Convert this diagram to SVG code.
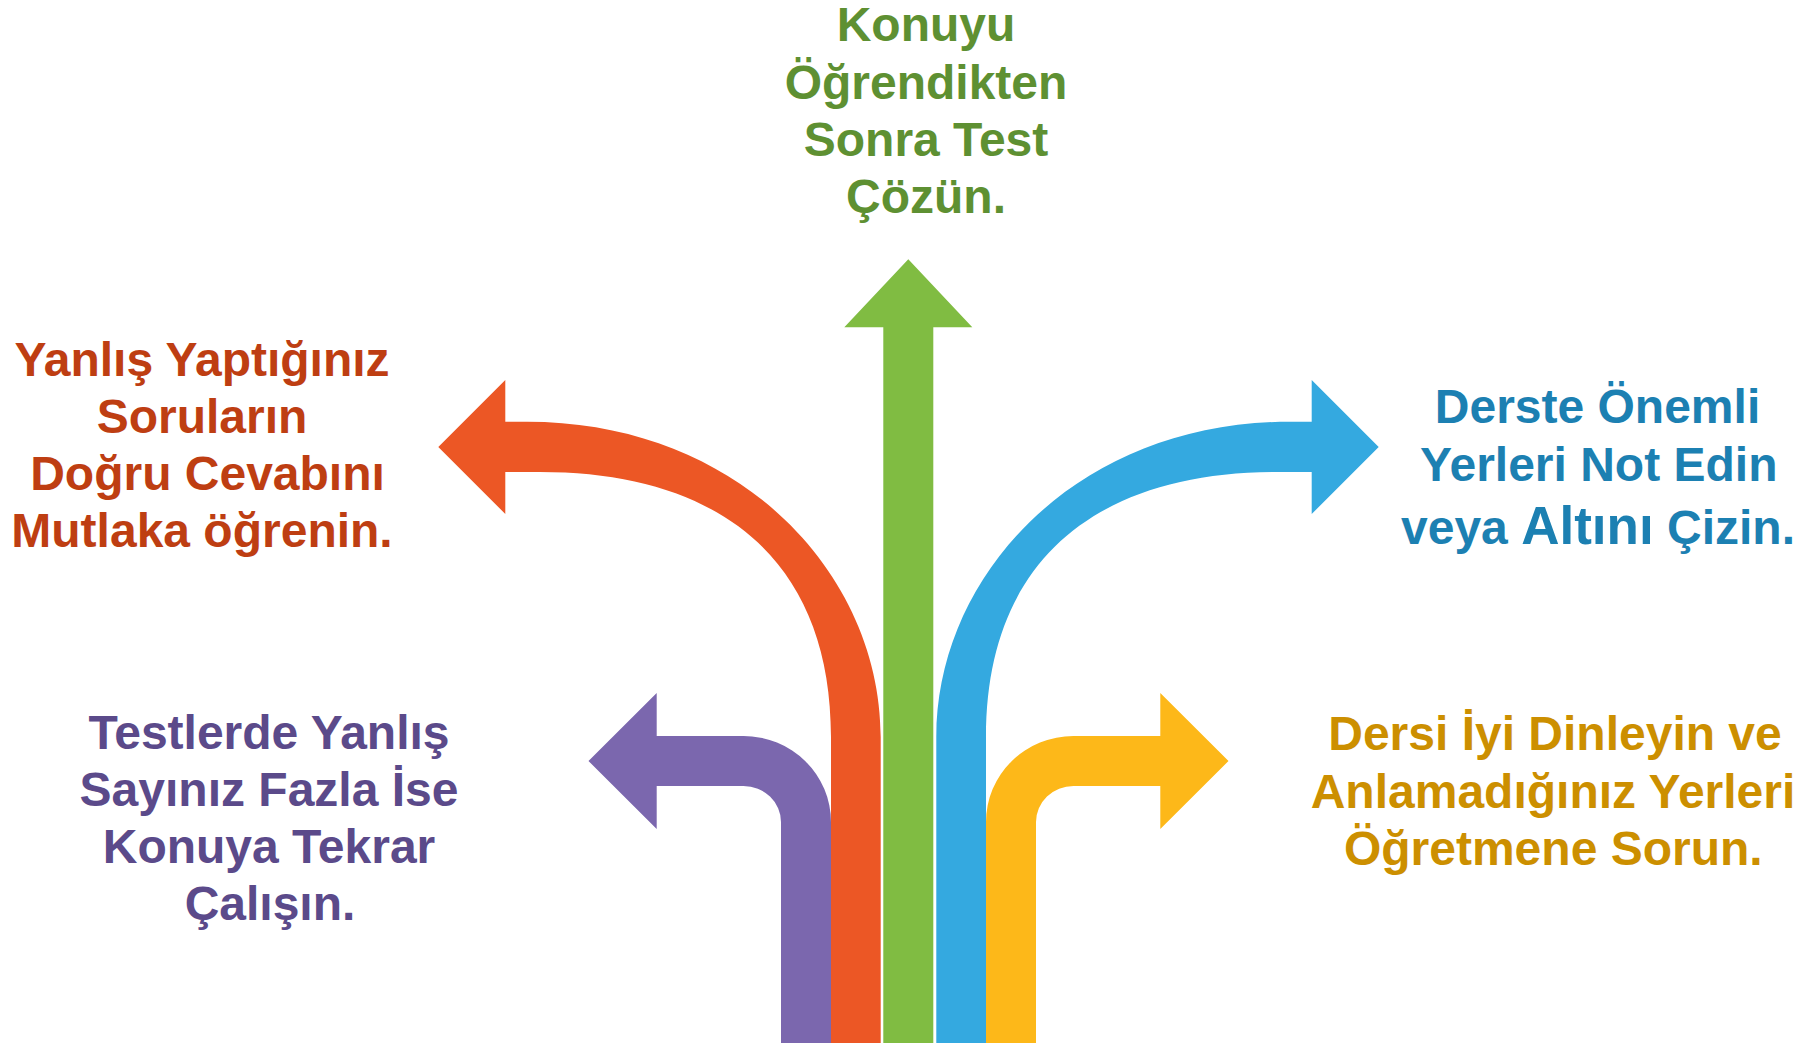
<svg xmlns="http://www.w3.org/2000/svg" width="1820" height="1043" viewBox="0 0 1820 1043">
<style>
  text { font-family: "Liberation Sans", Arial, sans-serif; font-weight: bold; font-size: 48px; text-anchor: middle; }
  .t-green { fill: #5E9032; }
  .t-orange { fill: #BE3E12; }
  .t-blue { fill: #1C80B2; }
  .t-purple { fill: #5B4A8A; }
  .t-yellow { fill: #CC8F00; }
  .big { font-size: 53px; }
</style>
<rect width="1820" height="1043" fill="#FFFFFF"/>
<g id="connectors">
  <path id="arrow-purple" fill="#7B67AE" d="M 831 1043 L 831 822 A 87.5 86 0 0 0 743.5 736 L 656.7 736 L 656.7 693 L 588.5 761 L 656.7 829 L 656.7 786 L 743.5 786 A 37.5 36 0 0 1 781 822 L 781 1043 Z"/>
  <path id="arrow-orange" fill="#EC5725" d="M 880.7 1043 L 880.7 737 C 880.7 575 740 421.7 527 421.7 L 505.3 421.7 L 505.3 380 L 438.3 447 L 505.3 514 L 505.3 472 L 540 472 C 720 472 831 560 831 737 L 831 1043 Z"/>
  <path id="arrow-green" fill="#80BC42" d="M 883.3 1043 L 883.3 327.3 L 844.3 327.3 L 908.3 259.3 L 972.3 327.3 L 933.3 327.3 L 933.3 1043 Z"/>
  <path id="arrow-blue" fill="#34A9E0" transform="matrix(-1 0 0 1 1817 0)" d="M 880.7 1043 L 880.7 737 C 880.7 575 740 421.7 527 421.7 L 505.3 421.7 L 505.3 380 L 438.3 447 L 505.3 514 L 505.3 472 L 540 472 C 720 472 831 560 831 737 L 831 1043 Z"/>
  <path id="arrow-yellow" fill="#FDB819" transform="matrix(-1 0 0 1 1817 0)" d="M 831 1043 L 831 822 A 87.5 86 0 0 0 743.5 736 L 656.7 736 L 656.7 693 L 588.5 761 L 656.7 829 L 656.7 786 L 743.5 786 A 37.5 36 0 0 1 781 822 L 781 1043 Z"/>
</g>
<g id="node-green">
  <text class="t-green" x="926" y="41">Konuyu</text>
  <text class="t-green" x="926" y="98.5">Öğrendikten</text>
  <text class="t-green" x="926" y="156">Sonra Test</text>
  <text class="t-green" x="926" y="213">Çözün.</text>
</g>
<g id="node-orange">
  <text class="t-orange" x="202" y="376">Yanlış Yaptığınız</text>
  <text class="t-orange" x="202" y="433">Soruların</text>
  <text class="t-orange" x="207.5" y="490">Doğru Cevabını</text>
  <text class="t-orange" x="202" y="547">Mutlaka öğrenin.</text>
</g>
<g id="node-blue">
  <text class="t-blue" x="1597.5" y="423">Derste Önemli</text>
  <text class="t-blue" x="1598.8" y="481">Yerleri Not Edin</text>
  <text class="t-blue" x="1598" y="544">veya <tspan class="big">Altını</tspan> Çizin.</text>
</g>
<g id="node-purple">
  <text class="t-purple" x="269" y="749">Testlerde Yanlış</text>
  <text class="t-purple" x="269" y="806">Sayınız Fazla İse</text>
  <text class="t-purple" x="269" y="863">Konuya Tekrar</text>
  <text class="t-purple" x="270" y="920">Çalışın.</text>
</g>
<g id="node-yellow">
  <text class="t-yellow" x="1555" y="750">Dersi İyi Dinleyin ve</text>
  <text class="t-yellow" x="1553" y="808">Anlamadığınız Yerleri</text>
  <text class="t-yellow" x="1553.3" y="865">Öğretmene Sorun.</text>
</g>
</svg>
